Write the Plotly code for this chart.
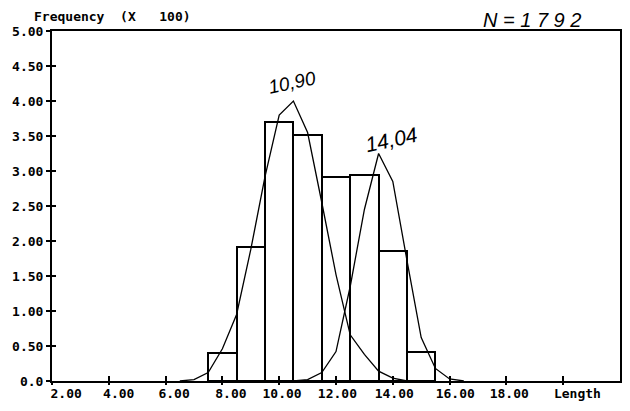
import plotly.graph_objects as go

# ---- data ----
bin_centers = [8, 9, 10, 11, 12, 13, 14, 15]
bin_counts = [0.40, 1.92, 3.70, 3.52, 2.91, 2.95, 1.86, 0.42]   # x 100

curve1_x = [6.5, 7.0, 7.5, 8.0, 8.5, 9.0, 9.5, 10.0, 10.5, 11.0, 11.5, 12.0, 12.5, 13.0, 13.5, 14.0, 14.5]
curve1_y = [0.0, 0.02, 0.12, 0.46, 0.95, 1.88, 2.92, 3.80, 4.00, 3.55, 2.55, 1.52, 0.66, 0.38, 0.14, 0.04, 0.0]

curve2_x = [10.5, 11.0, 11.5, 12.0, 12.5, 13.0, 13.5, 14.0, 14.5, 15.0, 15.5, 16.0, 16.5]
curve2_y = [0.0, 0.02, 0.12, 0.42, 1.35, 2.45, 3.25, 2.85, 1.72, 0.62, 0.18, 0.03, 0.0]

x_ticks = [2, 4, 6, 8, 10, 12, 14, 16, 18, 20]
x_label_pos = [2.5, 4.35, 6.3, 8.3, 10.1, 12.05, 14.05, 16.2, 18.1, 20.5]
x_label_text = ["2.00", "4.00", "6.00", "8.00", "10.00", "12.00", "14.00", "16.00", "18.00", "Length"]

y_ticks = [0, 0.5, 1, 1.5, 2, 2.5, 3, 3.5, 4, 4.5, 5]
y_tick_text = ["0.0", "0.50", "1.00", "1.50", "2.00", "2.50", "3.00", "3.50", "4.00", "4.50", "5.00"]

peak_labels = ["10,90", "14,04"]
peak_label_x = [10.45, 13.95]
peak_label_y = [4.27, 3.45]

mono = dict(family="DejaVu Sans Mono", size=13, color="black", weight="bold")
hand = dict(family="Liberation Sans", size=19, color="black", style="italic")

fig = go.Figure()
fig.add_trace(go.Bar(x=bin_centers, y=bin_counts, width=1,
                     marker=dict(color="white", line=dict(color="black", width=2)),
                     hoverinfo="skip", showlegend=False))
fig.add_trace(go.Scatter(x=curve1_x, y=curve1_y, mode="lines",
                         line=dict(color="black", width=1.3), showlegend=False, hoverinfo="skip"))
fig.add_trace(go.Scatter(x=curve2_x, y=curve2_y, mode="lines",
                         line=dict(color="black", width=1.3), showlegend=False, hoverinfo="skip"))
# invisible helpers so that the overlay axes (extra ticks / labels) are drawn
fig.add_trace(go.Scatter(x=bin_centers, y=bin_counts, xaxis="x2", yaxis="y2", mode="markers",
                         marker=dict(opacity=0), showlegend=False, hoverinfo="skip"))
fig.add_trace(go.Scatter(x=bin_centers, y=bin_counts, xaxis="x3", yaxis="y", mode="markers",
                         marker=dict(opacity=0), showlegend=False, hoverinfo="skip"))

for t, px, py in zip(peak_labels, peak_label_x, peak_label_y):
    fig.add_annotation(x=px, y=py, xref="x", yref="y", text=t, showarrow=False,
                       xanchor="center", yanchor="middle",
                       font=dict(hand, size=19 if t == "10,90" else 21), textangle=-12)

fig.add_annotation(x=0.845, y=1.03, xref="paper", yref="paper", text="N = 1 7 9 2",
                   xanchor="center", yanchor="middle", showarrow=False,
                   font=dict(family="Liberation Sans", size=20, color="black", style="italic"))
fig.add_annotation(x=-0.035, y=1.04, xref="paper", yref="paper", xanchor="left",
                   yanchor="middle", text="Frequency  (X   100)", showarrow=False, font=mono)

axis_common = dict(showgrid=False, zeroline=False, automargin=False)
fig.update_layout(
    width=622, height=403,
    margin=dict(l=44, r=10, t=23, b=30),
    paper_bgcolor="white", plot_bgcolor="white",
    bargap=0,
    xaxis=dict(range=[2, 22], tickvals=x_ticks, showticklabels=False,
               ticks="inside", ticklen=5, tickwidth=2, tickcolor="black",
               showline=True, linecolor="black", linewidth=2, mirror=True, **axis_common),
    xaxis2=dict(range=[2, 22], overlaying="x", anchor="y2", side="bottom",
                tickvals=x_ticks, showticklabels=False, ticks="outside", ticklen=3,
                tickwidth=2, tickcolor="black", showline=False, **axis_common),
    xaxis3=dict(range=[2, 22], overlaying="x", anchor="y", side="bottom",
                tickvals=x_label_pos, ticktext=x_label_text, ticks="", tickfont=mono,
                ticklabelstandoff=3, showline=False, **axis_common),
    yaxis=dict(range=[0, 5], tickvals=y_ticks, ticktext=y_tick_text, tickfont=mono,
               ticks="outside", ticklen=4, tickwidth=2, tickcolor="black",
               showline=True, linecolor="black", linewidth=2, mirror=True, **axis_common),
    yaxis2=dict(range=[0, 5], overlaying="y", anchor="x2", side="left",
                tickvals=y_ticks, showticklabels=False, ticks="inside", ticklen=4,
                tickwidth=2, tickcolor="black", showline=False, **axis_common),
)

fig.write_html("out.html")
